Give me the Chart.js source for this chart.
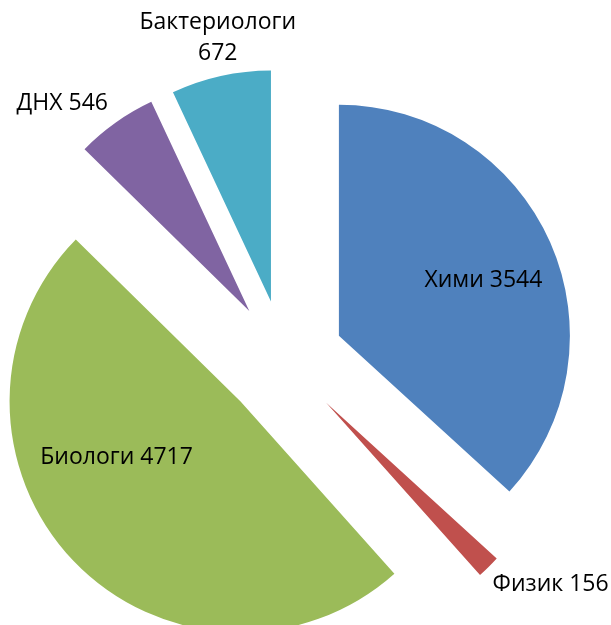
<!DOCTYPE html>
<html>
<head>
<meta charset="utf-8">
<script src="https://cdn.jsdelivr.net/npm/chart.js@4.4.1/dist/chart.umd.min.js"></script>
<style>
    html, body { margin: 0; padding: 0; background: #fff; }
</style>
</head>
<body>
<canvas id="myChart" width="611" height="625"></canvas>
<script>
const categories = ['Хими', 'Физик', 'Биологи', 'ДНХ', 'Бактериологи']
const counts = [3544, 156, 4717, 546, 672]
const sliceColors = ['#4F81BD', '#C0504D', '#9BBB59', '#8064A2', '#4BACC6']
// where each data label sits: [distance as share of radius, degrees clockwise from 12 o'clock]
const labelSpots = [[0.67, 69], [1.25, 129], [0.59, 245.5], [1.21, 318], [1.165, 348.6]]
const wrapLabel = [false, false, false, false, true]

const R = 231        // pie radius
const EXPLODE = 60   // how far every slice is pulled out

// pull every slice out by the same distance (chart.js offset also shrinks/grows slices)
const explode = {
    id: 'explode',
    beforeDatasetsDraw(chart) {
        const area = chart.chartArea
        const cx = (area.left + area.right) / 2
        const cy = (area.top + area.bottom) / 2
        chart.getDatasetMeta(0).data.forEach(arc => {
            const half = (arc.startAngle + arc.endAngle) / 2
            arc.x = cx + Math.cos(half) * EXPLODE
            arc.y = cy + Math.sin(half) * EXPLODE
        })
    }
}

const sliceLabels = {
    id: 'sliceLabels',
    afterDatasetsDraw(chart) {
        const ctx = chart.ctx
        ctx.save()
        ctx.font = '23px "Open Sans"'
        ctx.fillStyle = '#000'
        ctx.textAlign = 'center'
        ctx.textBaseline = 'middle'
        chart.getDatasetMeta(0).data.forEach((arc, i) => {
            const [share, deg] = labelSpots[i]
            const a = (deg - 90) * Math.PI / 180
            const lx = arc.x + Math.cos(a) * share * R
            const ly = arc.y + Math.sin(a) * share * R
            const lines = wrapLabel[i]
                ? [categories[i], String(counts[i])]
                : [categories[i] + ' ' + counts[i]]
            const step = 31
            lines.forEach((t, k) => {
                ctx.fillText(t, lx, ly + (k - (lines.length - 1) / 2) * step)
            })
        })
        ctx.restore()
    }
}

let ctx = document.getElementById('myChart').getContext('2d')
var chart = new Chart(ctx, {
    type: 'pie',
    data: {
        labels: categories,
        datasets: [{
            data: counts,
            backgroundColor: sliceColors,
            borderWidth: 0,
            hoverOffset: 0,
            clip: false
        }]
    },
    options: {
        responsive: false,
        animation: false,
        events: [],
        radius: R,
        layout: {
            padding: {left: 0, right: 43, top: 95, bottom: 0}
        },
        plugins: {
            legend: {display: false},
            tooltip: {enabled: false}
        }
    },
    plugins: [explode, sliceLabels]
});
</script>
</body>
</html>
